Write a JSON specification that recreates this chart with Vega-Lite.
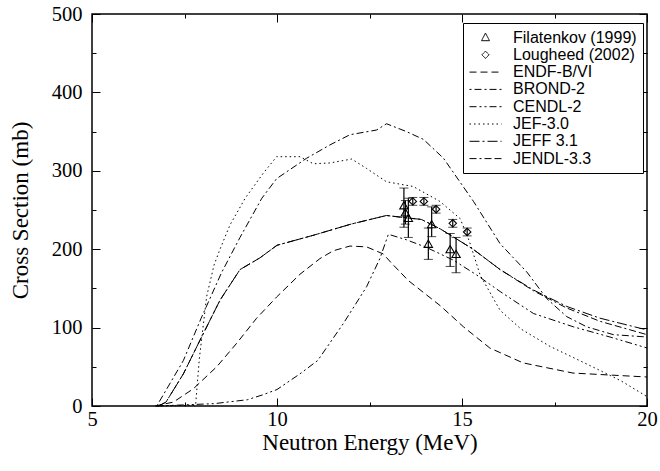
{
  "$schema": "https://vega.github.io/schema/vega-lite/v6.json",
  "width": 555,
  "height": 392,
  "autosize": "none",
  "padding": {"left": 92, "top": 14, "right": 13, "bottom": 65},
  "background": "white",
  "config": {
    "view": {"stroke": "black", "strokeWidth": 1.5},
    "axis": {"domain": false, "grid": false, "tickColor": "black", "tickWidth": 1, "labelColor": "black", "titleColor": "black", "labelFont": "'Liberation Serif', 'Times New Roman', Times, serif", "titleFont": "'Liberation Serif', 'Times New Roman', Times, serif", "labelFontSize": 20.5, "titleFontSize": 23, "titleFontWeight": "normal"}
  },
  "datasets": {
    "curves": [
      {"series": "ENDF-B/VI", "E": 6.7, "v": 0}, {"series": "ENDF-B/VI", "E": 7.2, "v": 5}, {"series": "ENDF-B/VI", "E": 7.74, "v": 22}, {"series": "ENDF-B/VI", "E": 8.37, "v": 50}, {"series": "ENDF-B/VI", "E": 8.91, "v": 80}, {"series": "ENDF-B/VI", "E": 9.45, "v": 112}, {"series": "ENDF-B/VI", "E": 9.99, "v": 139}, {"series": "ENDF-B/VI", "E": 10.62, "v": 168}, {"series": "ENDF-B/VI", "E": 11.16, "v": 188}, {"series": "ENDF-B/VI", "E": 11.52, "v": 198}, {"series": "ENDF-B/VI", "E": 11.97, "v": 204}, {"series": "ENDF-B/VI", "E": 12.42, "v": 203}, {"series": "ENDF-B/VI", "E": 12.87, "v": 194}, {"series": "ENDF-B/VI", "E": 13.1, "v": 182}, {"series": "ENDF-B/VI", "E": 13.55, "v": 160}, {"series": "ENDF-B/VI", "E": 14.41, "v": 128}, {"series": "ENDF-B/VI", "E": 15.04, "v": 101}, {"series": "ENDF-B/VI", "E": 15.75, "v": 74}, {"series": "ENDF-B/VI", "E": 16.65, "v": 55}, {"series": "ENDF-B/VI", "E": 18.0, "v": 42}, {"series": "ENDF-B/VI", "E": 20.0, "v": 37},
      {"series": "BROND-2", "E": 6.75, "v": 0}, {"series": "BROND-2", "E": 7.47, "v": 58}, {"series": "BROND-2", "E": 7.95, "v": 112}, {"series": "BROND-2", "E": 8.5, "v": 170}, {"series": "BROND-2", "E": 9.0, "v": 215}, {"series": "BROND-2", "E": 9.59, "v": 265}, {"series": "BROND-2", "E": 9.99, "v": 290}, {"series": "BROND-2", "E": 10.8, "v": 316}, {"series": "BROND-2", "E": 11.43, "v": 333}, {"series": "BROND-2", "E": 11.97, "v": 346}, {"series": "BROND-2", "E": 12.69, "v": 352}, {"series": "BROND-2", "E": 12.96, "v": 360}, {"series": "BROND-2", "E": 13.5, "v": 350}, {"series": "BROND-2", "E": 13.96, "v": 340}, {"series": "BROND-2", "E": 14.5, "v": 316}, {"series": "BROND-2", "E": 15.31, "v": 261}, {"series": "BROND-2", "E": 16.03, "v": 207}, {"series": "BROND-2", "E": 16.75, "v": 171}, {"series": "BROND-2", "E": 17.29, "v": 137}, {"series": "BROND-2", "E": 17.83, "v": 114}, {"series": "BROND-2", "E": 18.37, "v": 101}, {"series": "BROND-2", "E": 19.09, "v": 91}, {"series": "BROND-2", "E": 20.0, "v": 88},
      {"series": "CENDL-2", "E": 6.75, "v": 0}, {"series": "CENDL-2", "E": 8.3, "v": 3}, {"series": "CENDL-2", "E": 9.2, "v": 8}, {"series": "CENDL-2", "E": 9.6, "v": 14}, {"series": "CENDL-2", "E": 10.0, "v": 21}, {"series": "CENDL-2", "E": 10.62, "v": 41}, {"series": "CENDL-2", "E": 11.1, "v": 58}, {"series": "CENDL-2", "E": 11.79, "v": 105}, {"series": "CENDL-2", "E": 12.42, "v": 152}, {"series": "CENDL-2", "E": 12.78, "v": 188}, {"series": "CENDL-2", "E": 13.01, "v": 219}, {"series": "CENDL-2", "E": 13.5, "v": 212}, {"series": "CENDL-2", "E": 14.05, "v": 202}, {"series": "CENDL-2", "E": 14.77, "v": 186}, {"series": "CENDL-2", "E": 15.4, "v": 167}, {"series": "CENDL-2", "E": 16.03, "v": 146}, {"series": "CENDL-2", "E": 16.93, "v": 118}, {"series": "CENDL-2", "E": 18.01, "v": 101}, {"series": "CENDL-2", "E": 19.0, "v": 88}, {"series": "CENDL-2", "E": 20.0, "v": 74},
      {"series": "JEF-3.0", "E": 6.75, "v": 0}, {"series": "JEF-3.0", "E": 7.8, "v": 1}, {"series": "JEF-3.0", "E": 7.9, "v": 60}, {"series": "JEF-3.0", "E": 8.1, "v": 140}, {"series": "JEF-3.0", "E": 8.3, "v": 180}, {"series": "JEF-3.0", "E": 8.46, "v": 200}, {"series": "JEF-3.0", "E": 8.73, "v": 231}, {"series": "JEF-3.0", "E": 9.14, "v": 265}, {"series": "JEF-3.0", "E": 9.63, "v": 297}, {"series": "JEF-3.0", "E": 9.99, "v": 318}, {"series": "JEF-3.0", "E": 10.62, "v": 318}, {"series": "JEF-3.0", "E": 10.98, "v": 309}, {"series": "JEF-3.0", "E": 11.43, "v": 310}, {"series": "JEF-3.0", "E": 12.02, "v": 315}, {"series": "JEF-3.0", "E": 12.42, "v": 303}, {"series": "JEF-3.0", "E": 12.96, "v": 286}, {"series": "JEF-3.0", "E": 13.68, "v": 280}, {"series": "JEF-3.0", "E": 14.4, "v": 261}, {"series": "JEF-3.0", "E": 14.95, "v": 239}, {"series": "JEF-3.0", "E": 15.2, "v": 210}, {"series": "JEF-3.0", "E": 15.49, "v": 167}, {"series": "JEF-3.0", "E": 16.03, "v": 122}, {"series": "JEF-3.0", "E": 16.6, "v": 98}, {"series": "JEF-3.0", "E": 17.38, "v": 76}, {"series": "JEF-3.0", "E": 18.0, "v": 62}, {"series": "JEF-3.0", "E": 18.7, "v": 46}, {"series": "JEF-3.0", "E": 19.3, "v": 32}, {"series": "JEF-3.0", "E": 20.0, "v": 12},
      {"series": "JEFF 3.1", "E": 6.8, "v": 0}, {"series": "JEFF 3.1", "E": 7.0, "v": 5}, {"series": "JEFF 3.1", "E": 7.47, "v": 41}, {"series": "JEFF 3.1", "E": 7.92, "v": 84}, {"series": "JEFF 3.1", "E": 8.46, "v": 135}, {"series": "JEFF 3.1", "E": 9.0, "v": 174}, {"series": "JEFF 3.1", "E": 9.54, "v": 189}, {"series": "JEFF 3.1", "E": 10.0, "v": 205}, {"series": "JEFF 3.1", "E": 11.0, "v": 218}, {"series": "JEFF 3.1", "E": 12.0, "v": 232}, {"series": "JEFF 3.1", "E": 12.96, "v": 243}, {"series": "JEFF 3.1", "E": 13.5, "v": 240}, {"series": "JEFF 3.1", "E": 13.9, "v": 238}, {"series": "JEFF 3.1", "E": 14.41, "v": 226}, {"series": "JEFF 3.1", "E": 15.3, "v": 200}, {"series": "JEFF 3.1", "E": 16.03, "v": 174}, {"series": "JEFF 3.1", "E": 16.93, "v": 148}, {"series": "JEFF 3.1", "E": 17.83, "v": 127}, {"series": "JEFF 3.1", "E": 18.73, "v": 112}, {"series": "JEFF 3.1", "E": 20.0, "v": 97},
      {"series": "JENDL-3.3", "E": 6.8, "v": 0}, {"series": "JENDL-3.3", "E": 7.0, "v": 5}, {"series": "JENDL-3.3", "E": 7.47, "v": 41}, {"series": "JENDL-3.3", "E": 7.92, "v": 84}, {"series": "JENDL-3.3", "E": 8.46, "v": 135}, {"series": "JENDL-3.3", "E": 9.0, "v": 174}, {"series": "JENDL-3.3", "E": 9.54, "v": 189}, {"series": "JENDL-3.3", "E": 10.0, "v": 205}, {"series": "JENDL-3.3", "E": 11.0, "v": 218}, {"series": "JENDL-3.3", "E": 12.0, "v": 232}, {"series": "JENDL-3.3", "E": 12.96, "v": 243}, {"series": "JENDL-3.3", "E": 13.5, "v": 240}, {"series": "JENDL-3.3", "E": 13.9, "v": 238}, {"series": "JENDL-3.3", "E": 14.41, "v": 226}, {"series": "JENDL-3.3", "E": 15.3, "v": 200}, {"series": "JENDL-3.3", "E": 16.03, "v": 174}, {"series": "JENDL-3.3", "E": 16.93, "v": 147}, {"series": "JENDL-3.3", "E": 17.83, "v": 125}, {"series": "JENDL-3.3", "E": 18.73, "v": 108}, {"series": "JENDL-3.3", "E": 20.0, "v": 91}
    ],
    "points": [
      {"series": "Filatenkov (1999)", "E": 13.43, "v": 256, "lo": 228, "hi": 278},
      {"series": "Filatenkov (1999)", "E": 13.47, "v": 247, "lo": 232, "hi": 262},
      {"series": "Filatenkov (1999)", "E": 13.55, "v": 240, "lo": 215, "hi": 265},
      {"series": "Filatenkov (1999)", "E": 14.09, "v": 207, "lo": 187, "hi": 227},
      {"series": "Filatenkov (1999)", "E": 14.18, "v": 232, "lo": 216, "hi": 254},
      {"series": "Filatenkov (1999)", "E": 14.68, "v": 200, "lo": 178, "hi": 220},
      {"series": "Filatenkov (1999)", "E": 14.84, "v": 194, "lo": 170, "hi": 215},
      {"series": "Lougheed (2002)", "E": 13.67, "v": 261, "lo": 256, "hi": 266},
      {"series": "Lougheed (2002)", "E": 13.97, "v": 261, "lo": 256, "hi": 266},
      {"series": "Lougheed (2002)", "E": 14.3, "v": 251, "lo": 246, "hi": 256},
      {"series": "Lougheed (2002)", "E": 14.75, "v": 233, "lo": 228, "hi": 238},
      {"series": "Lougheed (2002)", "E": 15.14, "v": 222, "lo": 217, "hi": 227}
    ]
  },
  "layer": [
    {
      "data": {"name": "curves"},
      "mark": {"type": "line", "stroke": "black", "strokeWidth": 1},
      "encoding": {
        "x": {"field": "E", "type": "quantitative", "scale": {"domain": [5, 20], "nice": false, "zero": false},
          "axis": {"orient": "bottom", "values": [5, 7.5, 10, 12.5, 15, 17.5, 20], "labelExpr": "datum.value % 5 === 0 ? datum.label : ''", "tickSize": {"condition": {"test": "datum.value % 5 === 0", "value": -8}, "value": -4}, "labelPadding": 11, "labelFlush": false, "labelOverlap": false, "title": "Neutron Energy (MeV)", "titlePadding": -2}},
        "y": {"field": "v", "type": "quantitative", "scale": {"domain": [0, 500], "nice": false},
          "axis": {"orient": "left", "values": [0, 50, 100, 150, 200, 250, 300, 350, 400, 450, 500], "labelExpr": "datum.value % 100 === 0 ? datum.label : ''", "tickSize": {"condition": {"test": "datum.value % 100 === 0", "value": -8}, "value": -4}, "labelPadding": 18, "labelOverlap": false, "title": "Cross Section (mb)", "titlePadding": 19}},
        "strokeDash": {"field": "series", "type": "nominal",
          "scale": {"domain": ["Filatenkov (1999)", "Lougheed (2002)", "ENDF-B/VI", "BROND-2", "CENDL-2", "JEF-3.0", "JEFF 3.1", "JENDL-3.3"],
            "range": [[1, 0], [1, 0], [7, 4], [2, 3, 7, 3], [7, 3, 2, 3, 2, 3], [1.5, 3], [10, 3, 2, 3], [7, 3, 2, 3, 7, 3]]},
          "legend": {"orient": "none", "legendX": 371, "legendY": 9, "title": null, "strokeColor": "black", "fillColor": "white", "padding": 6, "symbolSize": 256, "symbolOffset": 8, "labelOffset": 19, "rowPadding": 0.3, "labelFont": "'Liberation Sans', Arial, Helvetica, sans-serif", "labelFontSize": 16, "labelColor": "black", "symbolStrokeWidth": 1, "symbolStrokeColor": "black", "labelLimit": 300,
            "encode": {"symbols": {"update": {"shape": {"signal": "datum.index === 0 ? 'M0,-0.55L0.5,0.4L-0.5,0.4Z' : datum.index === 1 ? 'M0,-0.45L0.45,0L0,0.45L-0.45,0Z' : 'M-2,0L2,0'"}, "fill": {"value": "transparent"}, "stroke": {"value": "black"}}}}}
        }
      }
    },
    {
      "data": {"name": "points"},
      "mark": {"type": "errorbar", "color": "black", "ticks": {"size": 9, "color": "black"}, "rule": {"strokeWidth": 1.2}},
      "encoding": {
        "x": {"field": "E", "type": "quantitative", "axis": null},
        "y": {"field": "lo", "type": "quantitative", "axis": null},
        "y2": {"field": "hi"}
      }
    },
    {
      "data": {"name": "points"},
      "mark": {"type": "point", "filled": false, "stroke": "black", "strokeWidth": 1.1, "opacity": 1},
      "encoding": {
        "x": {"field": "E", "type": "quantitative",
          "axis": {"orient": "top", "values": [5, 7.5, 10, 12.5, 15, 17.5, 20], "labels": false, "title": null, "tickSize": {"condition": {"test": "datum.value % 5 === 0", "value": -8}, "value": -4}}},
        "y": {"field": "v", "type": "quantitative",
          "axis": {"orient": "right", "values": [0, 50, 100, 150, 200, 250, 300, 350, 400, 450, 500], "labels": false, "title": null, "tickSize": {"condition": {"test": "datum.value % 100 === 0", "value": -8}, "value": -4}}},
        "shape": {"field": "series", "type": "nominal", "scale": {"domain": ["Filatenkov (1999)", "Lougheed (2002)"], "range": ["triangle-up", "diamond"]}, "legend": null},
        "size": {"field": "series", "type": "nominal", "scale": {"domain": ["Filatenkov (1999)", "Lougheed (2002)"], "range": [70, 55]}, "legend": null}
      }
    }
  ],
  "resolve": {"axis": {"x": "independent", "y": "independent"}}
}
